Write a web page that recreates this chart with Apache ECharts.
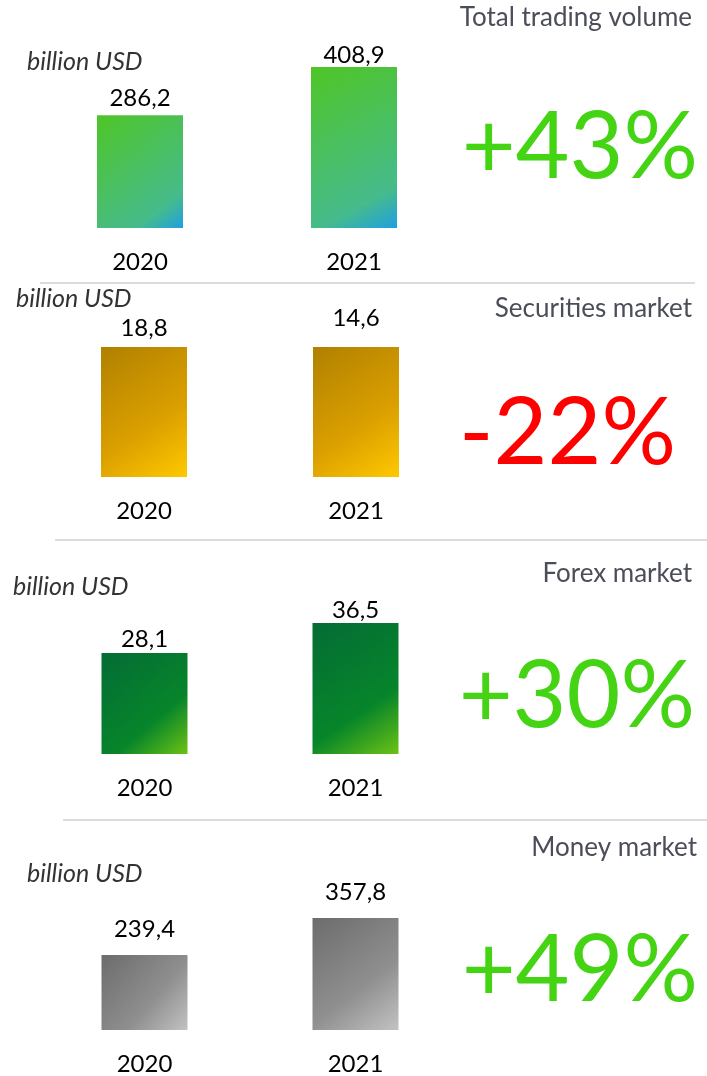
<!DOCTYPE html>
<html>
<head>
<meta charset="utf-8">
<script src="https://cdn.jsdelivr.net/npm/echarts@6/dist/echarts.min.js"></script>
<style>
  html, body { margin: 0; padding: 0; background: #fff; }
  #chart { width: 707px; height: 1076px; }
</style>
</head>
<body>
<div id="chart"></div>
<script>
// ------------------- D A T A ------------------- //
const years = ['2020', '2021']
const totalVolume = [286.2, 408.9]
const securitiesMarket = [18.8, 14.6]
const forexMarket = [28.1, 36.5]
const moneyMarket = [239.4, 357.8]
const panelTitles = ['Total trading volume', 'Securities market', 'Forex market', 'Money market']
const changes = ['+43%', '-22%', '+30%', '+49%']
const unitLabel = 'billion USD'

const FONT = 'Lato, "Noto Sans", sans-serif'

// one block per panel: grid box, axis max, bar gradient, label gaps, text spots
const panels = [
  {
    data: totalVolume, grid: { left: 33, width: 428, top: 31.1, height: 196.9 }, max: 500,
    stops: ['#4fc526', '#46bb8c', '#1f9fe2'], mid: 0.8, gaps: [5, 0],
    title: [692, 18], unit: [27, 62], change: [698, 148, '#44d414'], sep: [40, 283, 695]
  },
  {
    // both bars drawn at the same height in the source, so the axis tops out at the smaller value
    data: securitiesMarket, grid: { left: 38, width: 424, top: 347, height: 130 }, max: 14.6,
    stops: ['#b08000', '#dba000', '#ffc800'], mid: 0.6, gaps: [7, 17],
    title: [692, 309], unit: [16, 299], change: [676, 434, '#ff0000'], sep: [55, 540, 707]
  },
  {
    data: forexMarket, grid: { left: 39, width: 422, top: 610.4, height: 143.6 }, max: 40,
    stops: ['#046c36', '#07852a', '#6cc214'], mid: 0.65, gaps: [2, 1],
    title: [692, 574], unit: [13, 587], change: [695, 697, '#44d414'], sep: [63, 820, 707]
  },
  {
    data: moneyMarket, grid: { left: 39, width: 422, top: 904.8, height: 125.2 }, max: 400,
    stops: ['#6c6c6c', '#8f8f8f', '#c2c2c2'], mid: 0.6, gaps: [14, 14],
    title: [697, 848], unit: [27, 874], change: [698, 971, '#44d414']
  }
]

const fmt = v => v.toFixed(1).replace('.', ',')

const grids = []
const xAxes = []
const yAxes = []
const series = []
const graphics = []

panels.forEach((p, i) => {
  grids.push(p.grid)
  xAxes.push({
    type: 'category',
    gridIndex: i,
    data: years,
    axisLine: { show: false },
    axisTick: { show: false },
    axisLabel: { color: '#000', fontFamily: FONT, fontSize: 24, margin: 22 }
  })
  yAxes.push({
    type: 'value',
    gridIndex: i,
    min: 0,
    max: p.max,
    show: false,
    splitLine: { show: false }
  })
  series.push({
    type: 'bar',
    xAxisIndex: i,
    yAxisIndex: i,
    data: p.data.map((v, j) => ({ value: v, label: { distance: p.gaps[j] } })),
    barWidth: 86,
    clip: true,
    itemStyle: {
      color: new echarts.graphic.LinearGradient(0, 0, 1, 1, [
        { offset: 0, color: p.stops[0] },
        { offset: p.mid, color: p.stops[1] },
        { offset: 1, color: p.stops[2] }
      ])
    },
    label: {
      show: true,
      position: 'top',
      color: '#000',
      fontFamily: FONT,
      fontSize: 24,
      formatter: d => fmt(d.value)
    },
    emphasis: { disabled: true }
  })

  graphics.push({
    type: 'text', x: p.title[0], y: p.title[1],
    style: { text: panelTitles[i], align: 'right', verticalAlign: 'middle', fill: '#4b4d59', font: '26px ' + FONT }
  })
  graphics.push({
    type: 'text', x: p.unit[0], y: p.unit[1],
    style: { text: unitLabel, align: 'left', verticalAlign: 'middle', fill: '#333', font: 'italic 25px ' + FONT }
  })
  graphics.push({
    type: 'text', x: p.change[0], y: p.change[1],
    style: { text: changes[i], align: 'right', verticalAlign: 'middle', fill: p.change[2], font: '93px ' + FONT }
  })
  if (p.sep) {
    graphics.push({
      type: 'line',
      shape: { x1: p.sep[0], y1: p.sep[1], x2: p.sep[2], y2: p.sep[1] },
      style: { stroke: '#dcdcdc', lineWidth: 2 }
    })
  }
})

const myChart = echarts.init(document.getElementById('chart'))
myChart.setOption({
  animation: false,
  grid: grids,
  xAxis: xAxes,
  yAxis: yAxes,
  series: series,
  graphic: graphics
})
</script>
</body>
</html>
